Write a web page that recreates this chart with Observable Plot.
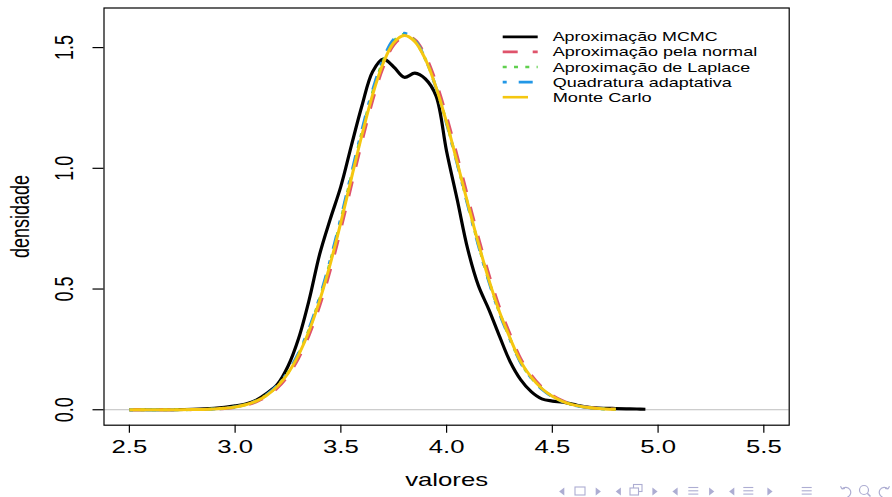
<!DOCTYPE html>
<html><head><meta charset="utf-8">
<script src="https://cdn.jsdelivr.net/npm/d3@7"></script>
<script src="https://cdn.jsdelivr.net/npm/@observablehq/plot@0.6"></script>
<style>
body{margin:0;background:#fff;}
#wrap{position:relative;width:892px;height:497px;overflow:hidden;font-family:"Liberation Sans",Arial,sans-serif;}
#wrap svg{position:absolute;left:0;top:0;}
</style></head><body><div id="wrap"></div>
<script>
// ---- data ----
const xGrid = [2.5,2.6,2.7,2.8,2.85,2.9,2.95,3.0,3.05,3.1,3.15,3.2,3.25,3.3,3.35,3.4,3.45,3.5,3.55,3.6,3.65,3.7,3.75,3.8,3.85,3.9,3.95,4.0,4.05,4.1,4.15,4.2,4.25,4.3,4.35,4.4,4.45,4.5,4.55,4.6,4.65,4.7,4.75,4.8];
const normalY = [0,0.00002,0.0001,0.0006,0.0013,0.0027,0.0053,0.0101,0.0185,0.0326,0.0552,0.0901,0.141,0.213,0.309,0.431,0.578,0.748,0.930,1.111,1.280,1.418,1.511,1.545,1.533,1.466,1.357,1.215,1.052,0.882,0.715,0.561,0.425,0.313,0.212,0.144,0.094,0.060,0.0365,0.0215,0.0124,0.007,0.0039,0.0022];
const laplaceY = [0,0.00002,0.00014,0.0007,0.0015,0.0032,0.0062,0.0116,0.0211,0.0367,0.0615,0.0995,0.154,0.231,0.333,0.460,0.613,0.786,0.969,1.150,1.314,1.444,1.527,1.555,1.528,1.451,1.335,1.188,1.022,0.851,0.686,0.534,0.403,0.294,0.197,0.133,0.087,0.055,0.0335,0.0197,0.0113,0.0064,0.0035,0.002];
const quadY = [0,0.00002,0.00015,0.0008,0.0016,0.0033,0.0063,0.0119,0.0216,0.0376,0.0629,0.1016,0.157,0.235,0.338,0.467,0.621,0.795,0.979,1.160,1.324,1.452,1.534,1.559,1.530,1.452,1.334,1.185,1.018,0.847,0.681,0.530,0.399,0.291,0.195,0.131,0.085,0.054,0.033,0.0194,0.0111,0.0063,0.0035,0.0019];
const monteCarloY = [0,0.00002,0.00014,0.0007,0.0015,0.0031,0.006,0.0113,0.0205,0.0358,0.0601,0.0974,0.151,0.227,0.327,0.453,0.604,0.776,0.959,1.139,1.304,1.435,1.52,1.55,1.525,1.451,1.336,1.19,1.025,0.855,0.69,0.538,0.406,0.297,0.20,0.135,0.088,0.056,0.034,0.020,0.0115,0.0065,0.0036,0.002];
const mcmcX = [2.5,2.6,2.7,2.8,2.9,2.95,3.0,3.05,3.1,3.15,3.2,3.25,3.3,3.35,3.4,3.45,3.5,3.55,3.6,3.65,3.7,3.75,3.8,3.85,3.9,3.95,4.0,4.05,4.1,4.15,4.2,4.25,4.3,4.35,4.4,4.45,4.5,4.55,4.6,4.65,4.7,4.75,4.8,4.85,4.9,4.94];
const mcmcY = [0,0.0001,0.0005,0.002,0.006,0.010,0.016,0.024,0.040,0.068,0.105,0.18,0.295,0.455,0.645,0.79,0.925,1.095,1.26,1.40,1.452,1.42,1.377,1.394,1.37,1.30,1.07,0.871,0.665,0.515,0.415,0.305,0.20,0.125,0.075,0.045,0.036,0.031,0.022,0.013,0.008,0.006,0.005,0.004,0.003,0.002];
const xTicks = [2.5,3.0,3.5,4.0,4.5,5.0,5.5];
const yTicks = [0,0.5,1.0,1.5];
const seriesNames = ["Aproximação MCMC","Aproximação pela normal","Aproximação de Laplace","Quadratura adaptativa","Monte Carlo"];
const seriesColors = ["#000000","#DF536B","#61D04F","#2297E6","#F5C710"];
const seriesDash = [null,"15,15","4,7.3","4,12,14,11","25,11"];
const xLabel = "valores", yLabel = "densidade";

// ---- build tables ----
const seriesX = [mcmcX, xGrid, xGrid, xGrid, xGrid];
const seriesY = [mcmcY, normalY, laplaceY, quadY, monteCarloY];
const tables = seriesY.map((ys, k) => ys.map((y, i) => ({x: seriesX[k][i], y})));

const S = 1.43; // horizontal stretch of the original figure's text
const fmt = d3.format(".1f");

const marks = [
  Plot.ruleY([0], {stroke: "#BEBEBE", strokeWidth: 1})
];
tables.forEach((t, k) => {
  marks.push(Plot.line(t, {x: "x", y: "y", stroke: seriesColors[k], strokeWidth: k === 0 ? 3.2 : 3,
    strokeDasharray: (k === 4 ? null : seriesDash[k]) || undefined, curve: "catmull-rom", strokeLinecap: "butt"}));
});
marks.push(
  Plot.frame({stroke: "black", strokeWidth: 1.2}),
  Plot.axisX({ticks: xTicks, tickSize: 8, tickPadding: 7, tickFormat: fmt, fontSize: 18, label: null, strokeWidth: 1.2}),
  Plot.axisY({ticks: yTicks, tickSize: 11, tickFormat: () => "", label: null, strokeWidth: 1.2}),
  Plot.text(yTicks, {y: d => d, text: d => fmt(d), frameAnchor: "left", dx: -39, rotate: -90, fontSize: 18, textAnchor: "middle", lineAnchor: "middle"}),
  Plot.text([xLabel], {text: d => d, frameAnchor: "bottom", dy: 61, fontSize: 18, lineAnchor: "bottom"}),
  Plot.text([yLabel], {text: d => d, frameAnchor: "left", dx: -83, rotate: -90, fontSize: 18, lineAnchor: "middle", textAnchor: "middle"})
);

const plot = Plot.plot({
  width: 892, height: 497,
  marginLeft: 103.5, marginRight: 103.3, marginTop: 7.5, marginBottom: 72.3,
  x: {domain: [2.38, 5.62]},
  y: {domain: [-0.064, 1.664]},
  style: {fontFamily: "'Liberation Sans', Arial, sans-serif", background: "white", color: "black", overflow: "visible"},
  marks
});
document.getElementById("wrap").appendChild(plot);

// stretch texts horizontally like the original (figure was widened)
d3.select(plot).selectAll("text").each(function() {
  const t = this.getAttribute("transform") || "";
  if (t.includes("rotate(")) this.setAttribute("transform", t.replace("rotate(", `scale(${S},1) rotate(`));
  else this.setAttribute("transform", (t + ` scale(${S},1)`).trim());
});

// ---- legend (drawn in an overlay) ----
const legendWidths = [165, 204.5, 197.5, 179, 99];
const leg = d3.select("#wrap").append("svg").attr("width", 892).attr("height", 497)
  .style("font-family", "'Liberation Sans', Arial, sans-serif");
seriesNames.forEach((name, k) => {
  const yy = 36.8 + k * 15.1;
  leg.append("line").attr("x1", 502.7).attr("x2", k === 4 ? 528 : 537.7).attr("y1", yy).attr("y2", yy)
    .attr("stroke", seriesColors[k]).attr("stroke-width", k === 0 ? 2.8 : 2.6)
    .attr("stroke-dasharray", k === 4 ? null : seriesDash[k]);
  leg.append("text").attr("x", 552.7).attr("y", yy + 4.5).attr("font-size", 12.6)
    .attr("textLength", legendWidths[k]).attr("lengthAdjust", "spacingAndGlyphs").text(name);
});

// ---- beamer navigation symbols ----
const navCol = "#adadd2";
const nav = leg.append("g").attr("fill", navCol).attr("stroke", navCol);
const tri = (cx, dir) => nav.append("path").attr("stroke", "none")
  .attr("d", `M${cx + dir * 2.6},${487.5} L${cx - dir * 2.6},${491.5} L${cx + dir * 2.6},${495.5} Z`);
[[561.7, 1], [598.3, -1], [618.3, 1], [655, -1], [675, 1], [711.7, -1], [731.7, 1], [770, -1]].forEach(([c, d]) => tri(c, d));
nav.append("rect").attr("x", 575).attr("y", 487).attr("width", 10).attr("height", 8).attr("fill", "none").attr("stroke-width", 1.1);
nav.append("rect").attr("x", 633.5).attr("y", 484.5).attr("width", 8.5).attr("height", 7).attr("fill", "none").attr("stroke-width", 1.1);
nav.append("rect").attr("x", 630).attr("y", 488).attr("width", 8.5).attr("height", 7).attr("fill", "white").attr("stroke-width", 1.1);
[693.3, 748.3, 806.7].forEach(cx => {
  [487.5, 490.8, 494.1].forEach(yy => nav.append("line").attr("x1", cx - 5).attr("x2", cx + 5).attr("y1", yy).attr("y2", yy).attr("stroke-width", 1.1));
});
nav.append("path").attr("fill", "none").attr("stroke-width", 1.2)
  .attr("d", "M842,489 A5,5 0 1 1 847.5,497 M842,489 l-1.5,-2.8 M842,489 l3,-0.6");
nav.append("circle").attr("cx", 864).attr("cy", 490).attr("r", 4.5).attr("fill", "none").attr("stroke-width", 1.2);
nav.append("line").attr("x1", 867.3).attr("y1", 493.3).attr("x2", 870.5).attr("y2", 496.5).attr("stroke-width", 1.5);
nav.append("path").attr("fill", "none").attr("stroke-width", 1.2)
  .attr("d", "M888,489 A5,5 0 1 0 882.5,497 M888,489 l1.5,-2.8 M888,489 l-3,-0.6");
</script></body></html>
